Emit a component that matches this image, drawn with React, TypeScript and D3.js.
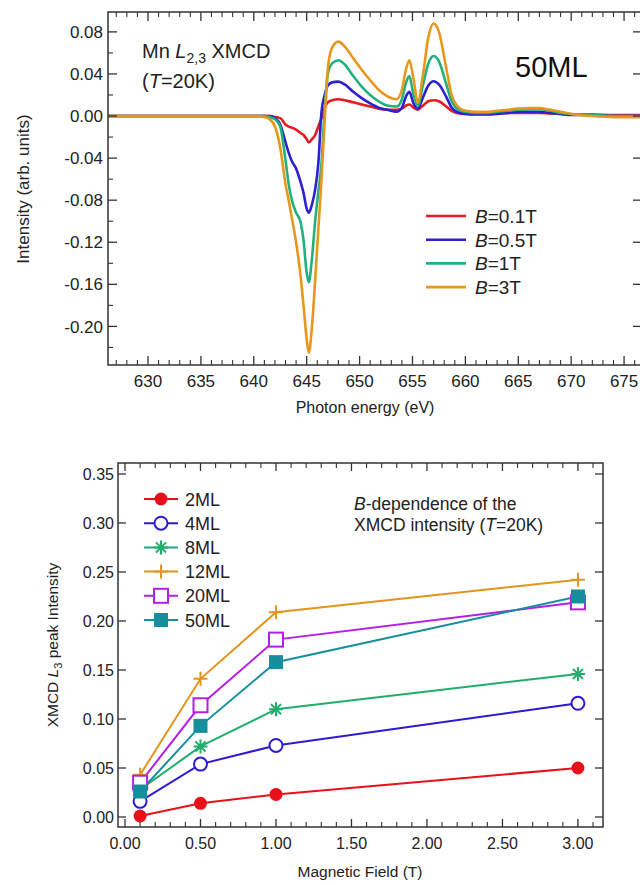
import * as d3 from 'd3'

// ---- XMCD spectra, 50ML, T=20K ----
const energy = [626.2, 630, 635, 640, 641, 641.5, 642, 642.5, 643, 643.3, 643.6, 644.0, 644.4, 644.7, 645.0, 645.2, 645.5, 645.8, 646.1, 646.4, 646.7, 647.0, 647.4, 648.0, 648.6, 649.4, 650.2, 651.0, 651.8, 652.6, 653.5, 654.0, 654.4, 654.7, 655.1, 655.5, 656.0, 656.5, 657.0, 657.5, 658.2, 658.7, 659.2, 660, 661, 662, 663, 664, 665, 666, 667, 668, 669, 670, 672, 674, 676.6]
const b01 = [0, 0, 0, 0, 0, 0, -0.001, -0.002, -0.008, -0.010, -0.011, -0.013, -0.016, -0.018, -0.022, -0.025, -0.022, -0.018, -0.010, -0.002, 0.008, 0.013, 0.015, 0.016, 0.015, 0.013, 0.011, 0.009, 0.007, 0.006, 0.006, 0.007, 0.010, 0.011, 0.008, 0.006, 0.010, 0.014, 0.015, 0.014, 0.009, 0.005, 0.003, 0.002, 0.002, 0.002, 0.0025, 0.003, 0.003, 0.003, 0.003, 0.0025, 0.002, 0.0015, 0.0015, 0.001, 0.001]
const b05 = [0, 0, 0, 0, 0, 0, -0.002, -0.008, -0.025, -0.035, -0.043, -0.050, -0.062, -0.073, -0.088, -0.092, -0.084, -0.070, -0.045, 0.004, 0.020, 0.029, 0.032, 0.0327, 0.030, 0.023, 0.017, 0.012, 0.008, 0.006, 0.004, 0.008, 0.019, 0.023, 0.012, 0.007, 0.018, 0.029, 0.033, 0.030, 0.018, 0.008, 0.004, 0.002, 0.0015, 0.0015, 0.002, 0.003, 0.004, 0.004, 0.004, 0.003, 0.002, 0.001, 0.001, 0, 0]
const b1 = [0, 0, 0, 0, 0, -0.001, -0.003, -0.010, -0.042, -0.065, -0.080, -0.092, -0.100, -0.118, -0.149, -0.158, -0.135, -0.100, -0.072, -0.045, 0.006, 0.040, 0.050, 0.053, 0.049, 0.038, 0.028, 0.020, 0.014, 0.010, 0.009, 0.016, 0.032, 0.038, 0.020, 0.010, 0.030, 0.050, 0.057, 0.052, 0.030, 0.014, 0.007, 0.004, 0.003, 0.003, 0.004, 0.005, 0.006, 0.0065, 0.0065, 0.005, 0.003, 0.002, 0.001, 0, 0]
const b3 = [0, 0, 0, 0, -0.001, -0.003, -0.010, -0.030, -0.065, -0.080, -0.097, -0.120, -0.150, -0.180, -0.212, -0.225, -0.200, -0.156, -0.108, -0.060, -0.005, 0.045, 0.065, 0.0707, 0.066, 0.055, 0.044, 0.034, 0.025, 0.019, 0.016, 0.025, 0.045, 0.053, 0.035, 0.013, 0.040, 0.075, 0.088, 0.080, 0.045, 0.020, 0.010, 0.005, 0.004, 0.004, 0.005, 0.006, 0.007, 0.0075, 0.0075, 0.006, 0.004, 0.002, 0, -0.001, -0.001]
const specNames = ['0.1T', '0.5T', '1T', '3T']
const specColors = ['#e31b23', '#2e1fd1', '#22b07d', '#e8971c']
const specSeries = [b01, b05, b1, b3]
const topXTicks = [630, 635, 640, 645, 650, 655, 660, 665, 670, 675]
const topYTicks = [0.08, 0.04, 0.0, -0.04, -0.08, -0.12, -0.16, -0.20]

// ---- B-dependence of L3 peak ----
const fieldT = [0.1, 0.5, 1.0, 3.0]
const ml2 = [0.001, 0.014, 0.023, 0.050]
const ml4 = [0.016, 0.054, 0.073, 0.116]
const ml8 = [0.028, 0.072, 0.110, 0.146]
const ml12 = [0.043, 0.141, 0.209, 0.242]
const ml20 = [0.035, 0.114, 0.181, 0.219]
const ml50 = [0.026, 0.093, 0.158, 0.225]
const mlNames = ['2ML', '4ML', '8ML', '12ML', '20ML', '50ML']
const mlColors = ['#e8101a', '#2d1bd4', '#1fae6c', '#e3941f', '#b41ee6', '#168f9c']
const mlMarkers = ['dot', 'circle', 'star', 'plus', 'square', 'fsquare']
const mlSeries = [ml2, ml4, ml8, ml12, ml20, ml50]
const botXTicks = [0, 0.5, 1.0, 1.5, 2.0, 2.5, 3.0]
const botYTicks = [0, 0.05, 0.10, 0.15, 0.20, 0.25, 0.30, 0.35]

const FONT = 'Liberation Sans, Arial, Helvetica, sans-serif'
const AX = '#333'

const fmt2 = (v: number) => (Math.abs(v) < 1e-9 ? '0.00' : v.toFixed(2))

const Marker = ({ kind, x, y, color }: { kind: string; x: number; y: number; color: string }) => {
    const s = 7
    if (kind === 'dot') return <circle cx={x} cy={y} r={6.5} fill={color} />
    if (kind === 'circle') return <circle cx={x} cy={y} r={6.5} fill="#fff" stroke={color} strokeWidth={2} />
    if (kind === 'square') return <rect x={x - s} y={y - s} width={2 * s} height={2 * s} fill="#fff" stroke={color} strokeWidth={2} />
    if (kind === 'fsquare') return <rect x={x - s} y={y - s} width={2 * s} height={2 * s} fill={color} />
    if (kind === 'plus')
        return (
            <path d={`M${x - s},${y}H${x + s}M${x},${y - s}V${y + s}`} stroke={color} strokeWidth={2} fill="none" />
        )
    // asterisk
    const d = s * 0.72
    return (
        <path
            d={`M${x - s},${y}H${x + s}M${x},${y - s}V${y + s}M${x - d},${y - d}L${x + d},${y + d}M${x - d},${y + d}L${x + d},${y - d}`}
            stroke={color}
            strokeWidth={2}
            fill="none"
        />
    )
}

const TopChart = () => {
    const L = 108, R = 641, T = 12, B = 365
    const x = d3.scaleLinear().domain([626.22, 676.6]).range([L, R])
    const y = d3.scaleLinear().domain([-0.2367, 0.0989]).range([B, T])
    const line = d3
        .line<number>()
        .x((d, i) => x(energy[i]))
        .y(d => y(d))
        .curve(d3.curveMonotoneX)

    const minorX = d3.range(627, 677, 1).filter(v => v % 5 !== 0)
    const minorY = d3.range(-0.22, 0.1, 0.04)

    return (
        <g fontFamily={FONT}>
            <defs>
                <clipPath id="clipTop">
                    <rect x={L} y={T} width={R - L} height={B - T} />
                </clipPath>
            </defs>
            <g clipPath="url(#clipTop)">
                {specSeries.map((s, i) => (
                    <path key={i} d={line(s) || ''} fill="none" stroke={specColors[i]} strokeWidth={2.6} strokeLinejoin="round" />
                ))}
            </g>
            <rect x={L} y={T} width={R - L} height={B - T} fill="none" stroke={AX} strokeWidth={1.5} />
            {topXTicks.map(v => (
                <g key={v}>
                    <line x1={x(v)} x2={x(v)} y1={B} y2={B - 9} stroke={AX} strokeWidth={1.3} />
                    <line x1={x(v)} x2={x(v)} y1={T} y2={T + 9} stroke={AX} strokeWidth={1.3} />
                    <text x={x(v)} y={387} textAnchor="middle" fontSize={17} fill="#222">{v}</text>
                </g>
            ))}
            {minorX.map(v => (
                <g key={v}>
                    <line x1={x(v)} x2={x(v)} y1={B} y2={B - 5} stroke={AX} strokeWidth={1.1} />
                    <line x1={x(v)} x2={x(v)} y1={T} y2={T + 5} stroke={AX} strokeWidth={1.1} />
                </g>
            ))}
            {topYTicks.map(v => (
                <g key={v}>
                    <line x1={L} x2={L + 9} y1={y(v)} y2={y(v)} stroke={AX} strokeWidth={1.3} />
                    <line x1={R} x2={R - 8} y1={y(v)} y2={y(v)} stroke={AX} strokeWidth={1.3} />
                    <text x={103} y={y(v)} dy="0.36em" textAnchor="end" fontSize={17} fill="#222">{fmt2(v)}</text>
                </g>
            ))}
            {minorY.map(v => (
                <line key={v} x1={L} x2={L + 5} y1={y(v)} y2={y(v)} stroke={AX} strokeWidth={1.1} />
            ))}
            <text transform="translate(29,189) rotate(-90)" textAnchor="middle" fontSize={17} fill="#222">Intensity (arb. units)</text>
            <text x={365} y={413} textAnchor="middle" fontSize={16} fill="#222">Photon energy (eV)</text>

            <text x={142} y={58} fontSize={20} fill="#222">
                Mn <tspan fontStyle="italic">L</tspan>
                <tspan fontSize={14} dy={5}>2,3</tspan>
                <tspan dy={-5}> XMCD</tspan>
            </text>
            <text x={142} y={88} fontSize={20} fill="#222">
                (<tspan fontStyle="italic">T</tspan>=20K)
            </text>
            <text x={515} y={77} fontSize={29} fill="#111">50ML</text>

            {specNames.map((n, i) => {
                const ly = 216 + i * 23.7
                return (
                    <g key={n}>
                        <line x1={426} x2={466} y1={ly} y2={ly} stroke={specColors[i]} strokeWidth={2.6} />
                        <text x={475} y={ly + 7} fontSize={19} fill="#222">
                            <tspan fontStyle="italic">B</tspan>={n}
                        </text>
                    </g>
                )
            })}
        </g>
    )
}

const BottomChart = () => {
    const L = 118, R = 603, T = 463, B = 827
    const x = d3.scaleLinear().domain([-0.0464, 3.166]).range([L, R])
    const y = d3.scaleLinear().domain([-0.0102, 0.3612]).range([B, T])
    const line = d3
        .line<number>()
        .x((d, i) => x(fieldT[i]))
        .y(d => y(d))

    const minorX = d3.range(0, 3.15, 0.1).filter(v => Math.abs(v * 2 - Math.round(v * 2)) > 1e-6)

    return (
        <g fontFamily={FONT}>
            {mlSeries.map((s, i) => (
                <path key={i} d={line(s) || ''} fill="none" stroke={mlColors[i]} strokeWidth={2} />
            ))}
            {mlSeries.map((s, i) =>
                s.map((v, j) => <Marker key={`${i}-${j}`} kind={mlMarkers[i]} x={x(fieldT[j])} y={y(v)} color={mlColors[i]} />)
            )}
            <rect x={L} y={T} width={R - L} height={B - T} fill="none" stroke={AX} strokeWidth={1.5} />
            {botXTicks.map(v => (
                <g key={v}>
                    <line x1={x(v)} x2={x(v)} y1={B} y2={B - 8} stroke={AX} strokeWidth={1.3} />
                    <line x1={x(v)} x2={x(v)} y1={T} y2={T + 8} stroke={AX} strokeWidth={1.3} />
                    <text x={x(v)} y={849} textAnchor="middle" fontSize={16} fill="#222">{fmt2(v)}</text>
                </g>
            ))}
            {minorX.map(v => (
                <g key={v}>
                    <line x1={x(v)} x2={x(v)} y1={B} y2={B - 5} stroke={AX} strokeWidth={1.1} />
                    <line x1={x(v)} x2={x(v)} y1={T} y2={T + 5} stroke={AX} strokeWidth={1.1} />
                </g>
            ))}
            {botYTicks.map(v => (
                <g key={v}>
                    <line x1={L} x2={L + 8} y1={y(v)} y2={y(v)} stroke={AX} strokeWidth={1.3} />
                    <line x1={R} x2={R - 8} y1={y(v)} y2={y(v)} stroke={AX} strokeWidth={1.3} />
                    <text x={114} y={y(v)} dy="0.36em" textAnchor="end" fontSize={16} fill="#222">{fmt2(v)}</text>
                </g>
            ))}
            <text transform="translate(58,645) rotate(-90)" textAnchor="middle" fontSize={15.5} fill="#222">
                XMCD <tspan fontStyle="italic">L</tspan>
                <tspan fontSize={11} dy={4}>3</tspan>
                <tspan dy={-4}> peak Intensity</tspan>
            </text>
            <text x={360} y={877} textAnchor="middle" fontSize={15.5} fill="#222">Magnetic Field (T)</text>

            <text x={354} y={510} fontSize={17.5} fill="#222">
                <tspan fontStyle="italic">B</tspan>-dependence of the
            </text>
            <text x={354} y={531} fontSize={17.5} fill="#222">
                XMCD intensity (<tspan fontStyle="italic">T</tspan>=20K)
            </text>

            {mlNames.map((n, i) => {
                const ly = 499 + i * 24.2
                return (
                    <g key={n}>
                        <line x1={144} x2={178} y1={ly} y2={ly} stroke={mlColors[i]} strokeWidth={2} />
                        <Marker kind={mlMarkers[i]} x={161} y={ly} color={mlColors[i]} />
                        <text x={185} y={ly + 6.5} fontSize={18} fill="#222">{n}</text>
                    </g>
                )
            })}
        </g>
    )
}

export default function App() {
    return (
        <div style={{ position: 'absolute', left: 0, top: 0 }}>
            <svg width={640} height={885} style={{ display: 'block', background: '#fff' }}>
                <TopChart />
                <BottomChart />
            </svg>
        </div>
    )
}
